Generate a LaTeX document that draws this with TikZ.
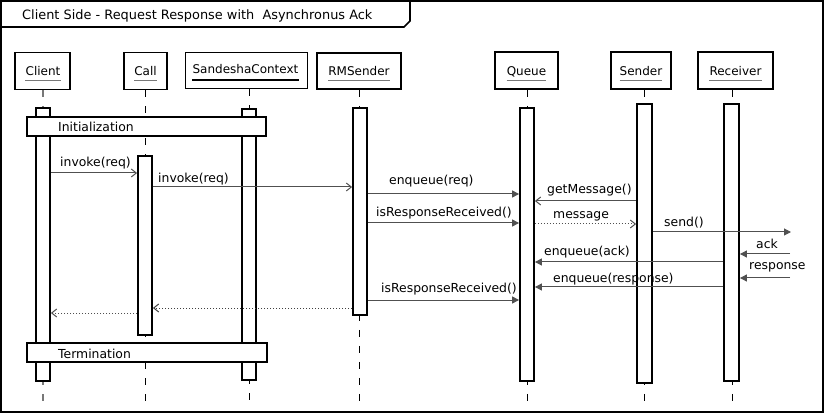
\documentclass[tikz,border=0pt]{standalone}
\usepackage{fontspec}
\setmainfont{DejaVu Sans}
\usetikzlibrary{arrows.meta}
\definecolor{msg}{RGB}{80,80,80}
\definecolor{ulgray}{RGB}{120,120,120}
\begin{document}
\begin{tikzpicture}[x=1pt,y=-1pt,
  every node/.style={font=\fontsize{12.4}{14}\selectfont},
  txt/.style={inner sep=0pt, anchor=base west},
  ctxt/.style={inner sep=0pt, anchor=base, font=\fontsize{12}{14}\selectfont},
  headbox/.style={draw, line width=1.8pt, inner sep=0pt},
  actbar/.style={draw, fill=white, line width=1.8pt, inner sep=0pt, minimum width=14pt},
  frag/.style={draw, fill=white, line width=1.6pt, inner sep=0pt},
  lifeln/.style={line width=1pt, dash pattern=on 7pt off 9pt},
  msgline/.style={draw=msg, line width=1pt},
  openarr/.style={msgline, -{Straight Barb[length=5pt,width=8pt,line width=1pt]}},
  fillarr/.style={msgline, -{Triangle[length=7pt,width=7pt]}},
  retarr/.style={openarr, dash pattern=on 1.5pt off 1.5pt},
]
\useasboundingbox (0,0) rectangle (825,414);
% frame
\draw[line width=2pt] (1,1) rectangle (823,412);
\draw[line width=1.6pt] (1,27) -- (404,27) -- (410,21) -- (410,1);
\node[txt, font=\fontsize{12.9}{15}\selectfont] (title) at (22,20) {Client Side - Request Response with\ \ Asynchronus Ack};

% heads
\node[headbox, minimum width=55pt, minimum height=37pt] (hcl) at (42.5,71) {};
\node[headbox, minimum width=43pt, minimum height=37pt] (hca) at (145.5,71) {};
\node[headbox, minimum width=122pt, minimum height=36pt] (hsc) at (246.5,70.5) {};
\node[headbox, minimum width=84pt, minimum height=36pt] (hrm) at (359,71) {};
\node[headbox, minimum width=63pt, minimum height=37pt] (hq) at (526.5,70.5) {};
\node[headbox, minimum width=60pt, minimum height=37pt] (hse) at (641,70.5) {};
\node[headbox, minimum width=75pt, minimum height=37pt] (hre) at (735.5,70.5) {};

\node[ctxt] (tcl) at (43,76) {Client};
\node[ctxt] (tca) at (145.5,76) {Call};
\node[ctxt] (tsc) at (245.5,74) {SandeshaContext};
\node[ctxt] (trm) at (359,76) {RMSender};
\node[ctxt] (tq) at (526.5,76) {Queue};
\node[ctxt] (tse) at (641,76) {Sender};
\node[ctxt] (tre) at (735.5,76) {Receiver};
\foreach \t in {tcl,tca,trm,tq,tse,tre}
  \draw[ulgray, line width=1.6pt] ([yshift=-4.5pt]\t.base west) -- ([yshift=-4.5pt]\t.base east);
\draw[black, line width=2pt] ([yshift=-6pt]tsc.base west) -- ([yshift=-6pt]tsc.base east);

% lifelines
\draw[lifeln, ulgray, line width=1.4pt] (hcl.south -| 43,0) -- (43,401);
\draw[lifeln] (hca.south -| 145,0) -- (145,401);
\draw[lifeln] (hsc.south -| 249,0) -- (249,401);
\draw[lifeln] (hrm.south -| 359,0) -- (359,401);
\draw[lifeln] (hq.south -| 527,0) -- (527,401);
\draw[lifeln] (hse.south -| 644,0) -- (644,404);
\draw[lifeln] (hre.south -| 732,0) -- (732,404);

% activation bars
\node[actbar, minimum height=273pt] (bcl) at (43,244.5) {};
\node[actbar, minimum height=179pt] (bca) at (145,245.5) {};
\node[actbar, minimum height=271pt] (bsc) at (249,244.5) {};
\node[actbar, minimum height=207pt] (brm) at (360,211.5) {};
\node[actbar, minimum height=273pt] (bq) at (527,244.5) {};
\node[actbar, minimum height=279pt, minimum width=15pt] (bse) at (644.5,243.5) {};
\node[actbar, minimum height=277pt, minimum width=15pt] (bre) at (731.5,242.5) {};

% fragments
\node[frag, minimum width=239pt, minimum height=19pt] (finit) at (146.5,126.5) {};
\node[txt] (tinit) at (58,132) {Initialization};
\node[frag, minimum width=240pt, minimum height=19pt] (fterm) at (147,352.5) {};
\node[txt] (tterm) at (58,358) {Termination};

% free ends
\coordinate (sendend) at (791,232);
\coordinate (ackst) at (790,254);
\coordinate (respst) at (790,278);

% messages
\draw[openarr] (bcl.east |- 0,173) -- (bca.west |- 0,173);
\node[txt] (m1) at (60,167) {invoke(req)};
\draw[openarr] (bca.east |- 0,187) -- (brm.west |- 0,187);
\node[txt] (m2) at (158,183) {invoke(req)};
\draw[fillarr] (brm.east |- 0,194) -- (bq.west |- 0,194);
\node[txt] (m3) at (389,185) {enqueue(req)};
\draw[fillarr] (brm.east |- 0,223) -- (bq.west |- 0,223);
\node[txt] (m4) at (376,217) {isResponseReceived()};
\draw[openarr] (bse.west |- 0,201) -- (bq.east |- 0,201);
\node[txt] (m5) at (547,194) {getMessage()};
\draw[retarr] (bq.east |- 0,224) -- (bse.west |- 0,224);
\node[txt] (m6) at (553,219) {message};
\draw[fillarr] (bse.east |- 0,232) -- (sendend);
\node[txt] (m7) at (664,227) {send()};
\draw[fillarr] (ackst) -- (bre.east |- 0,254);
\node[txt] (m8) at (756,249) {ack};
\draw[fillarr] (respst) -- (bre.east |- 0,278);
\node[txt] (m9) at (749,270) {response};
\draw[fillarr] (bre.west |- 0,262) -- (bq.east |- 0,262);
\node[txt] (m10) at (544,256) {enqueue(ack)};
\draw[fillarr] (bre.west |- 0,287) -- (bq.east |- 0,287);
\node[txt] (m11) at (553,283) {enqueue(response)};
\draw[fillarr] (brm.east |- 0,300) -- (bq.west |- 0,300);
\node[txt] (m12) at (381,292) {isResponseReceived()};
\draw[retarr, draw=black!75] (brm.west |- 0,308) -- (bca.east |- 0,308);
\draw[retarr] (bca.west |- 0,313) -- (bcl.east |- 0,313);
\end{tikzpicture}
\end{document}
